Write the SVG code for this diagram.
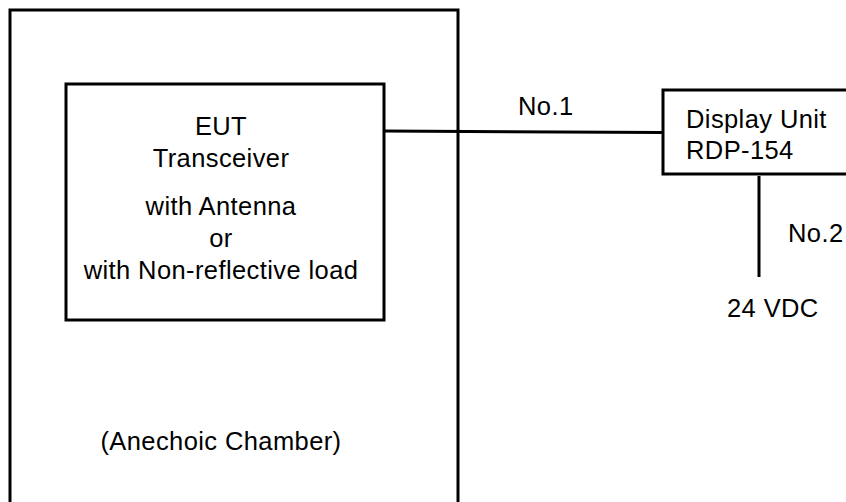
<svg xmlns="http://www.w3.org/2000/svg" width="846" height="502" viewBox="0 0 846 502">
<style>
.box{fill:none;stroke:#000;stroke-width:3}
.ln{fill:none;stroke:#000;stroke-width:3}
text{font-family:"Liberation Sans",Arial,sans-serif;font-size:25.5px;letter-spacing:0.4px;fill:#000}
.c{text-anchor:middle}
</style>
<rect width="846" height="502" fill="#fff"/>
<g id="chamber">
<path class="box" d="M10,510 V10 H458 V510"/>
<text class="c" x="221" y="450">(Anechoic Chamber)</text>
</g>
<g id="eut">
<rect class="box" x="66" y="84" width="318" height="236"/>
<text class="c" x="221" y="135">EUT</text>
<text class="c" x="221" y="167">Transceiver</text>
<text class="c" x="221" y="215">with Antenna</text>
<text class="c" x="221" y="247">or</text>
<text class="c" x="221" y="279">with Non-reflective load</text>
</g>
<g id="display">
<rect class="box" x="663" y="90" width="200" height="84"/>
<text x="686" y="128">Display Unit</text>
<text x="686" y="159">RDP-154</text>
</g>
<g id="power">
<text x="727" y="317">24 VDC</text>
</g>
<g id="connectors">
<path class="ln" d="M384,131 L663,132.5"/>
<path class="ln" d="M759,176 V277"/>
<text x="518" y="115">No.1</text>
<text x="788" y="242">No.2</text>
</g>
</svg>
